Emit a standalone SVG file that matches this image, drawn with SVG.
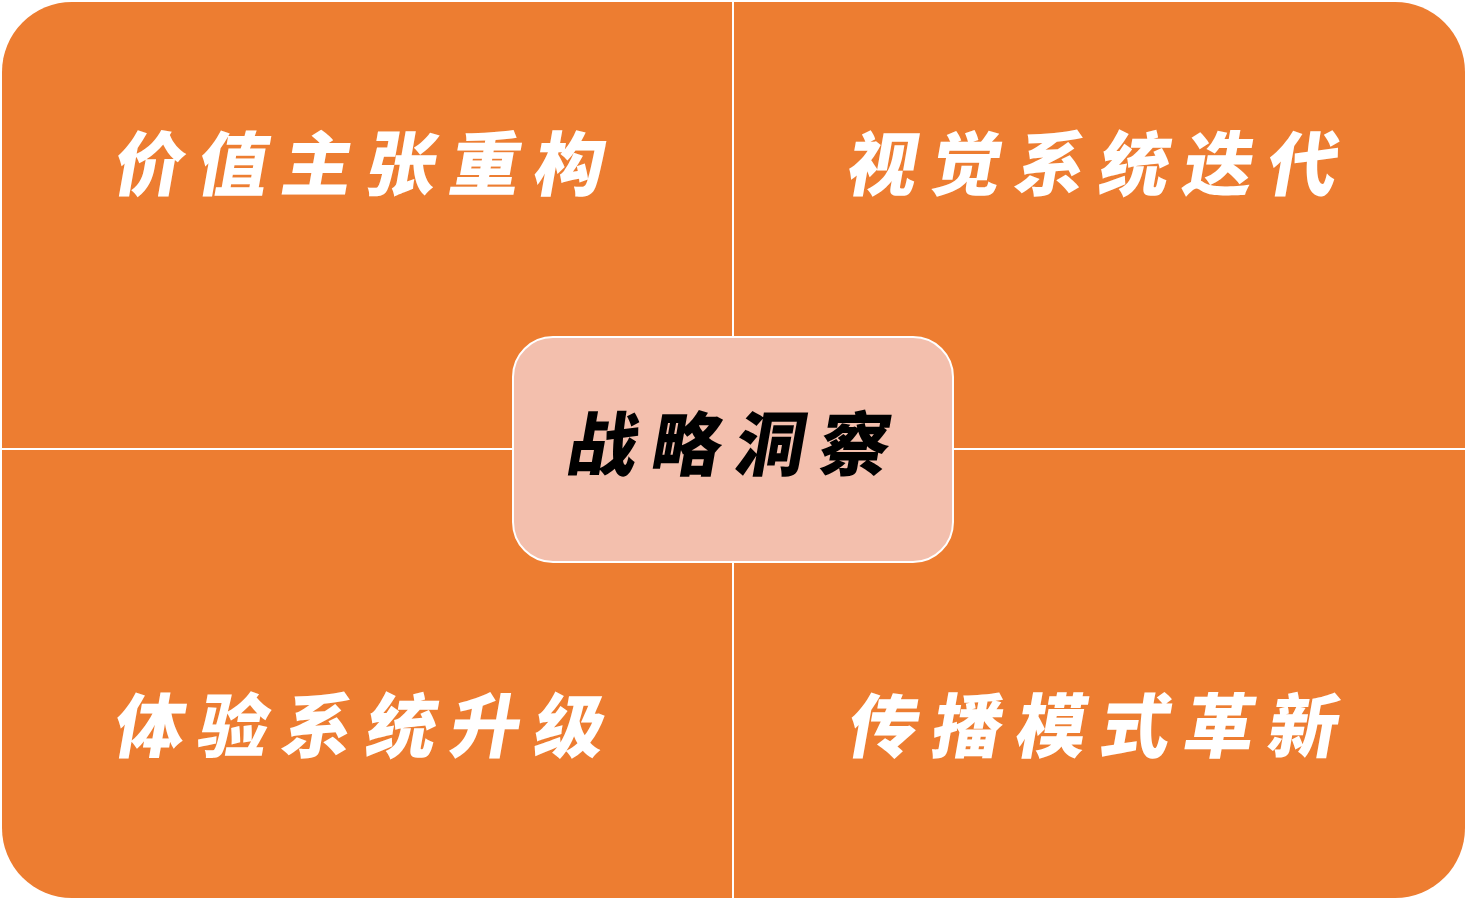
<svg xmlns="http://www.w3.org/2000/svg" width="1467" height="900" viewBox="0 0 1467 900">
<style>
.q{fill:#ED7D31;}
.lbl{font-family:"Noto Sans CJK SC","Noto Sans",sans-serif;font-weight:900;font-size:70px;letter-spacing:14px;text-anchor:middle;}
.w{fill:#FFFFFF;}
.k{fill:#000000;}
.div{stroke:#FFFFFF;stroke-width:2;fill:none;}
</style>
<rect x="0" y="0" width="1467" height="900" fill="#FFFFFF"/>
<g id="quadrants">
<path id="q-tl" class="q" d="M2,449 V72 A70,70 0 0 1 72,2 H733 V449 Z"/>
<path id="q-tr" class="q" d="M733,2 H1395 A70,70 0 0 1 1465,72 V449 H733 Z"/>
<path id="q-bl" class="q" d="M2,449 H733 V898 H72 A70,70 0 0 1 2,828 Z"/>
<path id="q-br" class="q" d="M733,449 H1465 V828 A70,70 0 0 1 1395,898 H733 Z"/>
</g>
<g id="connectors">
<line class="div" x1="733" y1="2" x2="733" y2="898"/>
<line class="div" x1="2" y1="449" x2="1465" y2="449"/>
</g>
<g id="node-tl"><text class="lbl w" transform="translate(363,190) skewX(-10)">价值主张重构</text></g>
<g id="node-tr"><text class="lbl w" transform="translate(1096,190) skewX(-10)">视觉系统迭代</text></g>
<g id="node-bl"><text class="lbl w" transform="translate(363,752) skewX(-10)">体验系统升级</text></g>
<g id="node-br"><text class="lbl w" transform="translate(1097,752) skewX(-10)">传播模式革新</text></g>
<g id="node-center">
<rect x="513" y="337" width="440" height="225" rx="40" ry="40" fill="#F3BFAD" stroke="#FFFFFF" stroke-width="2"/>
<text class="lbl k" transform="translate(732,470) skewX(-10)">战略洞察</text>
</g>
</svg>
